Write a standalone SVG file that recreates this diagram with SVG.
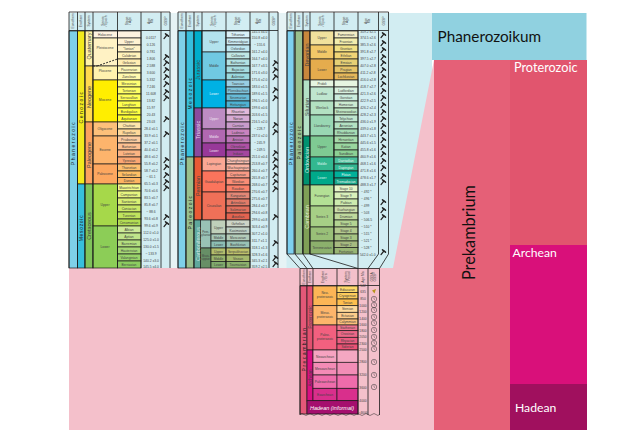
<svg xmlns="http://www.w3.org/2000/svg" width="643" height="430" viewBox="0 0 643 430">
<style>
text{font-family:"Liberation Sans",Arial,sans-serif;fill:#444;font-size:3.3px}
.c{text-anchor:middle}
.l{stroke:#1a1a1a;stroke-width:.8;fill:none}
.r rect{stroke:#1a1a1a;stroke-width:.7}
.h{font-size:2.3px;text-anchor:middle;fill:#666}
.v{font-size:5px;text-anchor:middle;letter-spacing:1.5px;fill:#222}
.s{font-size:5.4px;text-anchor:middle;fill:#444}
.b{font-family:Lato,"Liberation Sans",sans-serif;fill:#fff}
.k{font-family:Lato,"Liberation Sans",sans-serif;fill:#111}
.sp{stroke:#222;fill:none;stroke-linecap:round}
</style>
<defs>
<g id="g"><path class="sp" stroke-width="1.2" d="M-2 2.6L.9-1"/><path class="sp" stroke-width="1.5" d="M-.5-2.2L2.5.2"/></g>
<g id="q"><circle r="2.7" fill="none" stroke="#333" stroke-width=".5"/><path d="M0-1.8V0L1 .8" fill="none" stroke="#333" stroke-width=".4"/></g>
</defs>
<rect x="69" y="13" width="363" height="256" fill="#d2edf2"/>
<path d="M69 268H393L434 60V430H69Z" fill="#f4c0cb"/>
<rect x="171" y="13" width="6.500" height="255" fill="#e6f3f5"/>
<rect x="279" y="13" width="7.500" height="255" fill="#e6f3f5"/>

<g id="table-cenozoic-mesozoic">
<g class="r">
<rect x="69" y="31" width="8.5" height="237" fill="#7ed0e8"/>
<rect x="77.5" y="31" width="7.5" height="153" fill="#f2ea1d"/>
<rect x="77.5" y="184" width="7.5" height="84" fill="#37bfdc"/>
<rect x="85" y="31" width="8" height="35" fill="#fff2a8"/>
<rect x="85" y="66" width="8" height="56" fill="#ffd94f"/>
<rect x="85" y="122" width="8" height="62" fill="#fba15e"/>
<rect x="85" y="184" width="8" height="84" fill="#7fc35a"/>
<rect x="93" y="31" width="24.5" height="7" fill="#fef2e0"/>
<rect x="93" y="38" width="24.5" height="28" fill="#fff2c4"/>
<rect x="93" y="66" width="24.5" height="14" fill="#fff2ae"/>
<rect x="93" y="80" width="24.5" height="42" fill="#ffee00"/>
<rect x="93" y="122" width="24.5" height="14" fill="#fdc07a"/>
<rect x="93" y="136" width="24.5" height="28" fill="#fdb46c"/>
<rect x="93" y="164" width="24.5" height="20" fill="#fda75f"/>
<rect x="93" y="184" width="24.5" height="42" fill="#a6d84a"/>
<rect x="93" y="226" width="24.5" height="42" fill="#8ccd57"/>
<rect x="117.5" y="31" width="23.5" height="7" fill="#fef2e0"/>
<rect x="117.5" y="38" width="23.5" height="7" fill="#fff2d3"/>
<rect x="117.5" y="45" width="23.5" height="7" fill="#fff2c7"/>
<rect x="117.5" y="52" width="23.5" height="7" fill="#fff2ba"/>
<rect x="117.5" y="59" width="23.5" height="7" fill="#ffedb3"/>
<rect x="117.5" y="66" width="23.5" height="7" fill="#fff9b8"/>
<rect x="117.5" y="73" width="23.5" height="7" fill="#fff9ae"/>
<rect x="117.5" y="80" width="23.5" height="7" fill="#ffff73"/>
<rect x="117.5" y="87" width="23.5" height="7" fill="#ffff66"/>
<rect x="117.5" y="94" width="23.5" height="7" fill="#ffff59"/>
<rect x="117.5" y="101" width="23.5" height="7" fill="#ffff4d"/>
<rect x="117.5" y="108" width="23.5" height="7" fill="#ffff41"/>
<rect x="117.5" y="115" width="23.5" height="7" fill="#ffff33"/>
<rect x="117.5" y="122" width="23.5" height="7" fill="#fee6aa"/>
<rect x="117.5" y="129" width="23.5" height="7" fill="#fed99a"/>
<rect x="117.5" y="136" width="23.5" height="7" fill="#fdcda1"/>
<rect x="117.5" y="143" width="23.5" height="7" fill="#fdc091"/>
<rect x="117.5" y="150" width="23.5" height="7" fill="#fcb482"/>
<rect x="117.5" y="157" width="23.5" height="7" fill="#fca773"/>
<rect x="117.5" y="164" width="23.5" height="7" fill="#fdbf6f"/>
<rect x="117.5" y="171" width="23.5" height="6.5" fill="#febf65"/>
<rect x="117.5" y="177.5" width="23.5" height="6.5" fill="#fdb462"/>
<rect x="117.5" y="184" width="23.5" height="7" fill="#f2fa8c"/>
<rect x="117.5" y="191" width="23.5" height="7" fill="#e6f47f"/>
<rect x="117.5" y="198" width="23.5" height="7" fill="#d9ef74"/>
<rect x="117.5" y="205" width="23.5" height="7" fill="#cce968"/>
<rect x="117.5" y="212" width="23.5" height="7" fill="#bfe35d"/>
<rect x="117.5" y="219" width="23.5" height="7" fill="#b3de53"/>
<rect x="117.5" y="226" width="23.5" height="7" fill="#ccea97"/>
<rect x="117.5" y="233" width="23.5" height="7" fill="#bfe48a"/>
<rect x="117.5" y="240" width="23.5" height="7" fill="#b3df7f"/>
<rect x="117.5" y="247" width="23.5" height="7" fill="#a6d975"/>
<rect x="117.5" y="254" width="23.5" height="7" fill="#99d36a"/>
<rect x="117.5" y="261" width="23.5" height="7" fill="#8ccd60"/>
</g>
<path class="l" d="M69 12V268M77.5 12V268M85 12V268M93 12V268M117.5 12V268M141 12V268M161 12V268M170 12V268M69 12H170M69 30.5H170"/>
<path d="M93 66H97M97 66L117.5 59" stroke="#222" stroke-width=".9" stroke-dasharray="2 1.2" fill="none"/>
<g class="h"><text transform="translate(74 21) rotate(-90)">Eonothem</text><text transform="translate(82 21) rotate(-90)">Erathem</text><text transform="translate(89.800 21) rotate(-90)">System</text><text transform="translate(104 21) rotate(-90)">Series</text><text transform="translate(107 21) rotate(-90)">/ Epoch</text><text transform="translate(128 21) rotate(-90)">Stage</text><text transform="translate(131 21) rotate(-90)">/ Age</text><text transform="translate(150 21) rotate(-90)">Age</text><text transform="translate(153 21) rotate(-90)">Ma</text><text transform="translate(166.500 21) rotate(-90)">GSSP</text></g>
<text class="v" transform="translate(75 143) rotate(-90)">Phanerozoic</text>
<text class="v" transform="translate(83 107) rotate(-90)">Cenozoic</text>
<text class="v" style="letter-spacing:.7px" transform="translate(83 228) rotate(-90)">Mesozoic</text>
<text class="s" transform="translate(91 46) rotate(-90)">Quaternary</text>
<text class="s" transform="translate(91 97) rotate(-90)">Neogene</text>
<text class="s" transform="translate(91 155) rotate(-90)">Paleogene</text>
<text class="s" transform="translate(91 226) rotate(-90)">Cretaceous</text>
<g class="c">
<text x="105" y="36">Holocene</text><text x="105" y="49">Pleistocene</text><text x="105" y="72">Pliocene</text><text x="105" y="101">Miocene</text><text x="105" y="130">Oligocene</text><text x="105" y="151">Eocene</text><text x="105" y="175">Paleocene</text><text x="105" y="206">Upper</text><text x="105" y="248">Lower</text>
<text x="129" y="43">Upper</text><text x="129" y="50">"Ionian"</text><text x="129" y="57">Calabrian</text><text x="129" y="64">Gelasian</text><text x="129" y="71">Piacenzian</text><text x="129" y="78">Zanclean</text><text x="129" y="85">Messinian</text><text x="129" y="92">Tortonian</text><text x="129" y="99">Serravallian</text><text x="129" y="106">Langhian</text><text x="129" y="113">Burdigalian</text><text x="129" y="120">Aquitanian</text><text x="129" y="127">Chattian</text><text x="129" y="134">Rupelian</text><text x="129" y="141">Priabonian</text><text x="129" y="148">Bartonian</text><text x="129" y="155">Lutetian</text><text x="129" y="162">Ypresian</text><text x="129" y="169">Thanetian</text><text x="129" y="176">Selandian</text><text x="129" y="182">Danian</text><text x="129" y="189">Maastrichtian</text><text x="129" y="196">Campanian</text><text x="129" y="203">Santonian</text><text x="129" y="210">Coniacian</text><text x="129" y="217">Turonian</text><text x="129" y="224">Cenomanian</text><text x="129" y="231">Albian</text><text x="129" y="238">Aptian</text><text x="129" y="245">Barremian</text><text x="129" y="252">Hauterivian</text><text x="129" y="259">Valanginian</text><text x="129" y="266">Berriasian</text>
<text x="151" y="39">0.0117</text><text x="151" y="46">0.126</text><text x="151" y="53">0.781</text><text x="151" y="60">1.806</text><text x="151" y="67">2.588</text><text x="151" y="74">3.600</text><text x="151" y="81">5.332</text><text x="151" y="88">7.246</text><text x="151" y="95">11.608</text><text x="151" y="102">13.82</text><text x="151" y="109">15.97</text><text x="151" y="116">20.43</text><text x="151" y="123">23.03</text><text x="151" y="130">28.4 ±0.1</text><text x="151" y="137">33.9 ±0.1</text><text x="151" y="144">37.2 ±0.1</text><text x="151" y="151">40.4 ±0.2</text><text x="151" y="158">48.6 ±0.2</text><text x="151" y="165">55.8 ±0.2</text><text x="151" y="172">58.7 ±0.2</text><text x="151" y="178">~ 61.1</text><text x="151" y="185">65.5 ±0.3</text><text x="151" y="192">70.6 ±0.6</text><text x="151" y="199">83.5 ±0.7</text><text x="151" y="206">85.8 ±0.7</text><text x="151" y="213">~ 88.6</text><text x="151" y="220">93.6 ±0.8</text><text x="151" y="227">99.6 ±0.9</text><text x="151" y="234">112.0 ±1.0</text><text x="151" y="241">125.0 ±1.0</text><text x="151" y="248">130.0 ±1.5</text><text x="151" y="255">~ 133.9</text><text x="151" y="262">140.2 ±3.0</text><text x="151" y="268">145.5 ±4.0</text>
</g>
<use href="#g" x="166" y="36"/><use href="#g" x="166" y="57"/><use href="#g" x="166" y="63"/><use href="#g" x="166" y="70"/><use href="#g" x="166" y="77"/><use href="#g" x="166" y="84"/><use href="#g" x="166" y="92"/><use href="#g" x="166" y="98"/><use href="#g" x="166" y="119"/><use href="#g" x="166" y="134"/><use href="#g" x="166" y="160"/><use href="#g" x="166" y="167"/><use href="#g" x="166" y="175"/><use href="#g" x="166" y="182"/><use href="#g" x="166" y="188"/><use href="#g" x="166" y="217"/><use href="#g" x="166" y="224"/>
</g>

<g id="table-mesozoic-paleozoic">
<g class="r">
<rect x="178" y="31" width="8" height="237" fill="#7ed0e8"/>
<rect x="186" y="31" width="8" height="126" fill="#37bfdc"/>
<rect x="186" y="157" width="8" height="111" fill="#99c08d"/>
<rect x="194" y="31" width="8" height="77" fill="#00aecb"/>
<rect x="194" y="108" width="8" height="49" fill="#8a4a9e"/>
<rect x="194" y="157" width="8" height="63" fill="#e85a35"/>
<rect x="194" y="220" width="6.5" height="48" fill="#5fa89c"/>
<rect x="202" y="31" width="24" height="21" fill="#b3e3ee"/>
<rect x="202" y="52" width="24" height="28" fill="#70c9e2"/>
<rect x="202" y="80" width="24" height="28" fill="#00b1e4"/>
<rect x="202" y="108" width="24" height="21" fill="#bd8cc3"/>
<rect x="202" y="129" width="24" height="14" fill="#b168b1"/>
<rect x="202" y="143" width="24" height="14" fill="#983999"/>
<rect x="202" y="157" width="24" height="14" fill="#fba794"/>
<rect x="202" y="171" width="24" height="21" fill="#fb745c"/>
<rect x="202" y="192" width="24" height="28" fill="#ef7058"/>
<rect x="200.5" y="220" width="10.5" height="28" fill="#99c2b5"/>
<rect x="200.5" y="248" width="10.5" height="20" fill="#678f66"/>
<rect x="211" y="220" width="15" height="14" fill="#bfd0ba"/>
<rect x="211" y="234" width="15" height="7" fill="#a6c7b7"/>
<rect x="211" y="241" width="15" height="7" fill="#8cbeb4"/>
<rect x="211" y="248" width="15" height="7" fill="#b3be6c"/>
<rect x="211" y="255" width="15" height="6.5" fill="#99b46c"/>
<rect x="211" y="261.5" width="15" height="6.5" fill="#80ab6c"/>
<rect x="226" y="31" width="24" height="7" fill="#d9f1f7"/><rect x="226" y="38" width="24" height="7" fill="#ccecf4"/><rect x="226" y="45" width="24" height="7" fill="#bfe7f1"/><rect x="226" y="52" width="24" height="7" fill="#bfe7e5"/><rect x="226" y="59" width="24" height="7" fill="#b3e2e3"/><rect x="226" y="66" width="24" height="7" fill="#a6dde0"/><rect x="226" y="73" width="24" height="7" fill="#9ad9dd"/><rect x="226" y="80" width="24" height="7" fill="#99cee3"/><rect x="226" y="87" width="24" height="7" fill="#80c5dd"/><rect x="226" y="94" width="24" height="7" fill="#67bcd8"/><rect x="226" y="101" width="24" height="7" fill="#4eb3d3"/><rect x="226" y="108" width="24" height="7" fill="#e3b9db"/><rect x="226" y="115" width="24" height="7" fill="#d6aad3"/><rect x="226" y="122" width="24" height="7" fill="#c99bcb"/><rect x="226" y="129" width="24" height="7" fill="#c983bf"/><rect x="226" y="136" width="24" height="7" fill="#bc75b7"/><rect x="226" y="143" width="24" height="7" fill="#b051a5"/><rect x="226" y="150" width="24" height="7" fill="#a4469f"/><rect x="226" y="157" width="24" height="7" fill="#fcc0b2"/><rect x="226" y="164" width="24" height="7" fill="#fcb4a2"/><rect x="226" y="171" width="24" height="7" fill="#fb9a85"/><rect x="226" y="178" width="24" height="7" fill="#fb8d76"/><rect x="226" y="185" width="24" height="7" fill="#fb8069"/><rect x="226" y="192" width="24" height="7" fill="#e38776"/><rect x="226" y="199" width="24" height="7" fill="#e37b68"/><rect x="226" y="206" width="24" height="7" fill="#e36f5c"/><rect x="226" y="213" width="24" height="7" fill="#e36350"/><rect x="226" y="220" width="24" height="7" fill="#ccd4c7"/><rect x="226" y="227" width="24" height="7" fill="#bfd0c5"/><rect x="226" y="234" width="24" height="7" fill="#b3cbb9"/><rect x="226" y="241" width="24" height="7" fill="#99c2b5"/><rect x="226" y="248" width="24" height="7" fill="#bfc26b"/><rect x="226" y="255" width="24" height="6.5" fill="#a6b96c"/><rect x="226" y="261.5" width="24" height="6.5" fill="#8cb06c"/>
</g>
<path class="l" d="M178 12V268M186 12V268M194 12V268M226 12V268M250 12V268M269 12V268M278 12V268M178 12H278M178 30.5H278M202 12V220"/>
<g class="h"><text transform="translate(183 21) rotate(-90)">Eonothem</text><text transform="translate(191 21) rotate(-90)">Erathem</text><text transform="translate(199 21) rotate(-90)">System</text><text transform="translate(213 21) rotate(-90)">Series</text><text transform="translate(216 21) rotate(-90)">/ Epoch</text><text transform="translate(237 21) rotate(-90)">Stage</text><text transform="translate(240 21) rotate(-90)">/ Age</text><text transform="translate(258 21) rotate(-90)">Age</text><text transform="translate(261 21) rotate(-90)">Ma</text><text transform="translate(274.500 21) rotate(-90)">GSSP</text></g>
<text class="v" transform="translate(184 143) rotate(-90)">Phanerozoic</text>
<text class="v" transform="translate(192 93) rotate(-90)">Mesozoic</text>
<text class="v" transform="translate(192 212) rotate(-90)">Paleozoic</text>
<text class="s" transform="translate(200 70) rotate(-90)">Jurassic</text>
<text class="s" style="fill:#e4d4ec" transform="translate(200 130) rotate(-90)">Triassic</text>
<text class="s" transform="translate(200 186) rotate(-90)">Permian</text>
<text class="s" style="fill:#cfe6e2" transform="translate(199.500 244) rotate(-90)">Carboniferous</text>
<g class="c">
<text x="214" y="43">Upper</text><text x="214" y="67">Middle</text><text x="214" y="95" style="fill:#e8f7fc">Lower</text><text x="214" y="120" style="fill:#f0e4f2">Upper</text><text x="214" y="137.5" style="fill:#f0e4f2">Middle</text><text x="214" y="151.5" style="fill:#f0e4f2">Lower</text><text x="214" y="165">Lopingian</text><text x="214" y="183">Guadalupian</text><text x="214" y="207">Cisuralian</text>
<text style="font-size:2.6px"><tspan x="205.700" y="233">Penn-</tspan><tspan x="205.700" y="236">sylvanian</tspan></text>
<text style="font-size:2.6px"><tspan x="205.700" y="257">Missis-</tspan><tspan x="205.700" y="260">sippian</tspan></text>
<text x="218.500" y="228.5">Upper</text><text x="218.500" y="239">Middle</text><text x="218.500" y="246">Lower</text><text x="218.500" y="253">Upper</text><text x="218.500" y="259.5">Middle</text><text x="218.500" y="266">Lower</text>
<text x="238" y="36">Tithonian</text><text x="238" y="43">Kimmeridgian</text><text x="238" y="50">Oxfordian</text><text x="238" y="57">Callovian</text><text x="238" y="64">Bathonian</text><text x="238" y="71">Bajocian</text><text x="238" y="78">Aalenian</text><text x="238" y="85">Toarcian</text><text x="238" y="92">Pliensbachian</text><text x="238" y="99">Sinemurian</text><text x="238" y="106">Hettangian</text><text x="238" y="113">Rhaetian</text><text x="238" y="120">Norian</text><text x="238" y="127">Carnian</text><text x="238" y="134">Ladinian</text><text x="238" y="141">Anisian</text><text x="238" y="148">Olenekian</text><text x="238" y="155">Induan</text><text x="238" y="162">Changhsingian</text><text x="238" y="169">Wuchiapingian</text><text x="238" y="176">Capitanian</text><text x="238" y="183">Wordian</text><text x="238" y="190">Roadian</text><text x="238" y="197">Kungurian</text><text x="238" y="204">Artinskian</text><text x="238" y="211">Sakmarian</text><text x="238" y="218">Asselian</text><text x="238" y="225">Gzhelian</text><text x="238" y="232">Kasimovian</text><text x="238" y="239">Moscovian</text><text x="238" y="246">Bashkirian</text><text x="238" y="253">Serpukhovian</text><text x="238" y="259.5">Visean</text><text x="238" y="266">Tournaisian</text>
<text x="259.5" y="33">145.5 ±4.0</text><text x="259.5" y="39">150.8 ±4.0</text><text x="259.5" y="46">~ 155.6</text><text x="259.5" y="53">161.2 ±4.0</text><text x="259.5" y="60">164.7 ±4.0</text><text x="259.5" y="67">167.7 ±3.5</text><text x="259.5" y="74">171.6 ±3.0</text><text x="259.5" y="81">175.6 ±2.0</text><text x="259.5" y="88">183.0 ±1.5</text><text x="259.5" y="95">189.6 ±1.5</text><text x="259.5" y="102">196.5 ±1.0</text><text x="259.5" y="109">199.6 ±0.6</text><text x="259.5" y="116">203.6 ±1.5</text><text x="259.5" y="123">216.5 ±2.0</text><text x="259.5" y="130">~ 228.7</text><text x="259.5" y="137">237.0 ±2.0</text><text x="259.5" y="144">~ 245.9</text><text x="259.5" y="151">~ 249.5</text><text x="259.5" y="158">251.0 ±0.4</text><text x="259.5" y="165">253.8 ±0.7</text><text x="259.5" y="172">260.4 ±0.7</text><text x="259.5" y="179">265.8 ±0.7</text><text x="259.5" y="186">268.0 ±0.7</text><text x="259.5" y="193">270.6 ±0.7</text><text x="259.5" y="200">275.6 ±0.7</text><text x="259.5" y="207">284.4 ±0.7</text><text x="259.5" y="214">294.6 ±0.8</text><text x="259.5" y="221">299.0 ±0.8</text><text x="259.5" y="228">303.4 ±0.9</text><text x="259.5" y="235">307.2 ±1.0</text><text x="259.5" y="242">311.7 ±1.1</text><text x="259.5" y="249">318.1 ±1.3</text><text x="259.5" y="256">328.3 ±1.6</text><text x="259.5" y="262">345.3 ±2.1</text><text x="259.5" y="268">359.2 ±2.5</text>
</g>
<use href="#g" x="275" y="63"/><use href="#g" x="275" y="70"/><use href="#g" x="275" y="77"/><use href="#g" x="275" y="90"/><use href="#g" x="275" y="98"/><use href="#g" x="275" y="125"/><use href="#g" x="275" y="132"/><use href="#g" x="275" y="153"/><use href="#g" x="275" y="160"/><use href="#g" x="275" y="167"/><use href="#g" x="275" y="175"/><use href="#g" x="275" y="182"/><use href="#g" x="275" y="189"/><use href="#g" x="275" y="217"/><use href="#g" x="275" y="243"/><use href="#g" x="275" y="258"/><use href="#g" x="275" y="264"/>
</g>

<g id="table-paleozoic">
<g class="r">
<rect x="287" y="31" width="7" height="223" fill="#7ed0f0"/>
<rect x="295" y="31" width="7.5" height="223" fill="#99c08d"/>
<rect x="303" y="31" width="7" height="49" fill="#c8873c"/>
<rect x="303" y="80" width="7" height="56" fill="#b3e1c6"/>
<rect x="303" y="136" width="7" height="49" fill="#009270"/>
<rect x="303" y="185" width="7" height="69" fill="#7fa056"/>
<rect x="310" y="31" width="24" height="14" fill="#f1e19d"/><rect x="310" y="45" width="24" height="14" fill="#f1c868"/><rect x="310" y="59" width="24" height="21" fill="#e5ac4d"/><rect x="310" y="80" width="24" height="7" fill="#e6f5e1"/><rect x="310" y="87" width="24" height="14" fill="#bfe6cf"/><rect x="310" y="101" width="24" height="14" fill="#b3e1c2"/><rect x="310" y="115" width="24" height="21" fill="#99d7b3"/><rect x="310" y="136" width="24" height="21" fill="#7fca93"/><rect x="310" y="157" width="24" height="14" fill="#33b890"/><rect x="310" y="171" width="24" height="14" fill="#00a98a"/><rect x="310" y="185" width="24" height="21" fill="#b3e095"/><rect x="310" y="206" width="24" height="21" fill="#a6cf86"/><rect x="310" y="227" width="24" height="14" fill="#99c078"/><rect x="310" y="241" width="24" height="13" fill="#8cb06c"/>
<rect x="334" y="31" width="24" height="7" fill="#f2edc5"/><rect x="334" y="38" width="24" height="7" fill="#f2edad"/><rect x="334" y="45" width="24" height="7" fill="#f1e185"/><rect x="334" y="52" width="24" height="7" fill="#f1d576"/><rect x="334" y="59" width="24" height="7" fill="#e5d075"/><rect x="334" y="66" width="24" height="7" fill="#e5c468"/><rect x="334" y="73" width="24" height="7" fill="#e5b75a"/><rect x="334" y="80" width="24" height="7" fill="#e6f5e1"/><rect x="334" y="87" width="24" height="7" fill="#d9f0df"/><rect x="334" y="94" width="24" height="7" fill="#ccecdd"/><rect x="334" y="101" width="24" height="7" fill="#ccebd1"/><rect x="334" y="108" width="24" height="7" fill="#bfe6c3"/><rect x="334" y="115" width="24" height="7" fill="#bfe6cf"/><rect x="334" y="122" width="24" height="7" fill="#b3e1c2"/><rect x="334" y="129" width="24" height="7" fill="#a6dcb5"/><rect x="334" y="136" width="24" height="7" fill="#a6dbab"/><rect x="334" y="143" width="24" height="7" fill="#99d69f"/><rect x="334" y="150" width="24" height="7" fill="#8cd094"/><rect x="334" y="157" width="24" height="7" fill="#4dbf9c"/><rect x="334" y="164" width="24" height="7" fill="#33b692"/><rect x="334" y="171" width="24" height="7" fill="#00b09a"/><rect x="334" y="178" width="24" height="7" fill="#1aa58a"/><rect x="334" y="185" width="24" height="7" fill="#e6f5c9"/><rect x="334" y="192" width="24" height="7" fill="#d9f0bb"/><rect x="334" y="199" width="24" height="7" fill="#ccebae"/><rect x="334" y="206" width="24" height="7" fill="#ccdfaa"/><rect x="334" y="213" width="24" height="7" fill="#bfd99d"/><rect x="334" y="220" width="24" height="7" fill="#b3d492"/><rect x="334" y="227" width="24" height="7" fill="#b3ca8e"/><rect x="334" y="234" width="24" height="7" fill="#a6c583"/><rect x="334" y="241" width="24" height="6.5" fill="#a6ba80"/><rect x="334" y="247.5" width="24" height="6.5" fill="#99b575"/>
</g>
<path class="l" d="M287 12V254M295 12V254M303 12V254M310 12V254M334 12V254M358 12V254M378.500 12V254M388.500 12V254M287 12H388.500M287 30.5H388.500"/>
<g class="h"><text transform="translate(291.800 21) rotate(-90)">Eonothem</text><text transform="translate(299.800 21) rotate(-90)">Erathem</text><text transform="translate(307.500 21) rotate(-90)">System</text><text transform="translate(321 21) rotate(-90)">Series</text><text transform="translate(324 21) rotate(-90)">/ Epoch</text><text transform="translate(345 21) rotate(-90)">Stage</text><text transform="translate(348 21) rotate(-90)">/ Age</text><text transform="translate(367 21) rotate(-90)">Age</text><text transform="translate(370 21) rotate(-90)">Ma</text><text transform="translate(384.500 21) rotate(-90)">GSSP</text></g>
<text class="v" transform="translate(292.500 143) rotate(-90)">Phanerozoic</text>
<text class="v" transform="translate(300.500 142) rotate(-90)">Paleozoic</text>
<text class="s" transform="translate(308.500 55) rotate(-90)">Devonian</text>
<text class="s" transform="translate(308.500 107) rotate(-90)">Silurian</text>
<text class="s" style="fill:#d6efe6" transform="translate(308.500 160) rotate(-90)">Ordovician</text>
<text class="s" style="fill:#e3efd2" transform="translate(308.500 217) rotate(-90)">Cambrian</text>
<g class="c">
<text x="322" y="39">Upper</text><text x="322" y="53">Middle</text><text x="322" y="71">Lower</text><text x="322" y="85">Pridoli</text><text x="322" y="95">Ludlow</text><text x="322" y="109">Wenlock</text><text x="322" y="127">Llandovery</text><text x="322" y="148">Upper</text><text x="322" y="165" style="fill:#dff5ec">Middle</text><text x="322" y="179" style="fill:#dff5ec">Lower</text><text x="322" y="197">Furongian</text><text x="322" y="218">Series 3</text><text x="322" y="235">Series 2</text><text x="322" y="249">Terreneuvian</text>
<text x="346" y="36">Famennian</text><text x="346" y="43">Frasnian</text><text x="346" y="50">Givetian</text><text x="346" y="57">Eifelian</text><text x="346" y="64">Emsian</text><text x="346" y="71">Pragian</text><text x="346" y="78">Lochkovian</text><text x="346" y="92">Ludfordian</text><text x="346" y="99">Gorstian</text><text x="346" y="106">Homerian</text><text x="346" y="113">Sheinwoodian</text><text x="346" y="120">Telychian</text><text x="346" y="127">Aeronian</text><text x="346" y="134">Rhuddanian</text><text x="346" y="141">Hirnantian</text><text x="346" y="148">Katian</text><text x="346" y="155">Sandbian</text><text x="346" y="162" style="fill:#e6f7f0">Darriwilian</text><text x="346" y="169" style="fill:#e6f7f0">Dapingian</text><text x="346" y="176" style="fill:#e6f7f0">Floian</text><text x="346" y="183" style="fill:#e6f7f0">Tremadocian</text><text x="346" y="190">Stage 10</text><text x="346" y="197">Stage 9</text><text x="346" y="204">Paibian</text><text x="346" y="211">Guzhangian</text><text x="346" y="218">Drumian</text><text x="346" y="225">Stage 5</text><text x="346" y="232">Stage 4</text><text x="346" y="239">Stage 3</text><text x="346" y="246">Stage 2</text><text x="346" y="252.5">Fortunian</text>
<text x="368" y="33">359.2 ±2.5</text><text x="368" y="39">374.5 ±2.6</text><text x="368" y="46">385.3 ±2.6</text><text x="368" y="53">391.8 ±2.7</text><text x="368" y="60">397.5 ±2.7</text><text x="368" y="67">407.0 ±2.8</text><text x="368" y="74">411.2 ±2.8</text><text x="368" y="81">416.0 ±2.8</text><text x="368" y="88">418.7 ±2.7</text><text x="368" y="95">421.3 ±2.6</text><text x="368" y="102">422.9 ±2.5</text><text x="368" y="109">426.2 ±2.4</text><text x="368" y="116">428.2 ±2.3</text><text x="368" y="123">436.0 ±1.9</text><text x="368" y="130">439.0 ±1.8</text><text x="368" y="137">443.7 ±1.5</text><text x="368" y="144">445.6 ±1.5</text><text x="368" y="151">455.8 ±1.6</text><text x="368" y="158">460.9 ±1.6</text><text x="368" y="165">468.1 ±1.6</text><text x="368" y="172">471.8 ±1.6</text><text x="368" y="179">478.6 ±1.7</text><text x="368" y="186">488.3 ±1.7</text>
</g>
<text x="361" y="193">~ 492 *</text><text x="361" y="200">~ 496 *</text><text x="361" y="207">~ 499</text><text x="361" y="214">~ 503</text><text x="361" y="221">~ 506.5</text><text x="361" y="228">~ 510 *</text><text x="361" y="235">~ 515 *</text><text x="361" y="242">~ 521 *</text><text x="361" y="249">~ 528 *</text><text x="360" y="255.5">542.0 ±1.0</text>
<use href="#g" x="383" y="35"/><use href="#g" x="383" y="43"/><use href="#g" x="383" y="50"/><use href="#g" x="383" y="57"/><use href="#g" x="383" y="63"/><use href="#g" x="383" y="70"/><use href="#g" x="383" y="77"/><use href="#g" x="383" y="84"/><use href="#g" x="383" y="91"/><use href="#g" x="383" y="98"/><use href="#g" x="383" y="105"/><use href="#g" x="383" y="112"/><use href="#g" x="383" y="119"/><use href="#g" x="383" y="126"/><use href="#g" x="383" y="133"/><use href="#g" x="383" y="140"/><use href="#g" x="383" y="147"/><use href="#g" x="383" y="154"/><use href="#g" x="383" y="161"/><use href="#g" x="383" y="168"/><use href="#g" x="383" y="176"/><use href="#g" x="383" y="182"/><use href="#g" x="383" y="202"/><use href="#g" x="383" y="210"/><use href="#g" x="383" y="217"/><use href="#g" x="383" y="252"/>
</g>

<g id="connectors">
<path class="l" d="M287 254L300 268.5M295 254L307 268.5M303 254L313 268.5M310 254L358 268.5M358 254L358 268.5M378.500 254L368 268.5M388.500 254L379.500 268.5"/>
</g>

<g id="table-precambrian">
<g class="r">
<rect x="300" y="286" width="7" height="128" fill="#e45878"/>
<rect x="307" y="286" width="6" height="64" fill="#e2506f"/>
<rect x="307" y="350" width="6" height="51" fill="#da0f82"/>
<rect x="313" y="286" width="24" height="19.7" fill="#fcb556"/>
<rect x="313" y="305.7" width="24" height="19.3" fill="#fdb56b"/>
<rect x="313" y="325" width="24" height="25" fill="#f2607f"/>
<rect x="313" y="350" width="24" height="12.3" fill="#f6a3c1"/>
<rect x="313" y="362.3" width="24" height="12.7" fill="#f48bb6"/>
<rect x="313" y="375" width="24" height="13.3" fill="#ef6cab"/>
<rect x="313" y="388.3" width="24" height="12.4" fill="#d92f8c"/>
<rect x="337" y="286" width="21" height="6.5" fill="#fed96a"/><rect x="337" y="292.5" width="21" height="6.5" fill="#fecc5c"/><rect x="337" y="299" width="21" height="6.7" fill="#febf4e"/><rect x="337" y="305.7" width="21" height="6.6" fill="#fed99a"/><rect x="337" y="312.3" width="21" height="6.7" fill="#fdcc8a"/><rect x="337" y="319" width="21" height="6" fill="#fdc07a"/><rect x="337" y="325" width="21" height="5.7" fill="#f0738f"/><rect x="337" y="330.7" width="21" height="6.6" fill="#ee6888"/><rect x="337" y="337.3" width="21" height="6.7" fill="#ed5c80"/><rect x="337" y="344" width="21" height="6" fill="#eb5275"/>
<rect x="337" y="350" width="21" height="12.3" fill="#f4a7c2"/><rect x="337" y="362.3" width="21" height="12.7" fill="#f28db6"/><rect x="337" y="375" width="21" height="13.3" fill="#ef6cab"/><rect x="337" y="388.3" width="21" height="12.4" fill="#d92f8c"/>
<rect x="307" y="400.7" width="51" height="13.3" fill="#a50f6e"/>
</g>
<path class="l" d="M300 268.5V415M307 268.5V286M313 268.5V286M337 268.5V286M358 268.5V415M368 268.5V415M379.500 268.5V415M300 268.5H379.500M300 285.5H379.500"/>
<path d="M300 414.5q2-2 4 0t4 0 4 0 4 0 4 0 4 0 4 0 4 0 4 0 4 0 4 0 4 0 4 0 4 0 4 0 4 0 4 0 4 0 4 0 3.500 0" stroke="#222" stroke-width=".5" fill="none"/>
<g class="h"><text transform="translate(304.500 277) rotate(-90)">Eonothem</text><text transform="translate(311 277) rotate(-90)">Erathem</text><text transform="translate(324 277) rotate(-90)">Erathem</text><text transform="translate(327 277) rotate(-90)">/ Era</text><text transform="translate(347 277) rotate(-90)">System</text><text transform="translate(350 277) rotate(-90)">/ Period</text><text transform="translate(364 277) rotate(-90)">Age Ma</text><text transform="translate(373 277) rotate(-90)">GSSA</text><text transform="translate(376 277) rotate(-90)">GSSP</text></g>
<text class="v" transform="translate(305.5 349) rotate(-90)">Precambrian</text>
<text class="s" style="font-size:4.600px" transform="translate(311.800 317) rotate(-90)">Proterozoic</text>
<text class="s" style="font-size:4.600px" transform="translate(311.800 378) rotate(-90)">Archean</text>
<g class="c">
<text><tspan x="325" y="294">Neo-</tspan><tspan x="325" y="298">proterozoic</tspan></text>
<text><tspan x="325" y="314">Meso-</tspan><tspan x="325" y="318">proterozoic</tspan></text>
<text><tspan x="325" y="336">Paleo-</tspan><tspan x="325" y="340">proterozoic</tspan></text>
<text x="325" y="357.5">Neoarchean</text><text x="325" y="370">Mesoarchean</text><text x="325" y="383">Paleoarchean</text><text x="325" y="395.5">Eoarchean</text>
<text x="347.5" y="290.5">Ediacaran</text><text x="347.5" y="297">Cryogenian</text><text x="347.5" y="303.5">Tonian</text><text x="347.5" y="310">Stenian</text><text x="347.5" y="317">Ectasian</text><text x="347.5" y="323">Calymmian</text><text x="347.5" y="329">Statherian</text><text x="347.5" y="335">Orosirian</text><text x="347.5" y="341.5">Rhyacian</text><text x="347.5" y="348">Siderian</text>
<text x="332" y="409.5" style="font-size:5.5px;font-style:italic;fill:#fff">Hadean (informal)</text>
<text x="363" y="287">542</text><text x="363" y="293">635</text><text x="363" y="300">850</text><text x="363" y="307">1000</text><text x="363" y="313">1200</text><text x="363" y="320">1400</text><text x="363" y="326">1600</text><text x="363" y="332">1800</text><text x="363" y="338">2050</text><text x="363" y="345">2300</text><text x="363" y="351">2500</text><text x="363" y="363">2800</text><text x="363" y="376">3200</text><text x="363" y="389">3600</text><text x="363" y="402">4000</text><text x="363" y="414">~4600</text>
</g>
<path d="M372 290.5L376 289 374.5 293.5Z" fill="#b8941e"/>
<use href="#q" x="374" y="299"/><use href="#q" x="374" y="305"/><use href="#q" x="374" y="310"/><use href="#q" x="374" y="317"/><use href="#q" x="374" y="323"/><use href="#q" x="374" y="330"/><use href="#q" x="374" y="337"/><use href="#q" x="374" y="343"/><use href="#q" x="374" y="349"/><use href="#q" x="374" y="362"/><use href="#q" x="374" y="375"/><use href="#q" x="374" y="387"/>
</g>

<g id="block-phanerozoikum">
<rect x="432" y="13" width="154.5" height="47" fill="#90d1e0"/>
<text class="k" x="437.5" y="42" style="font-size:15.3px">Phanerozoikum</text>
</g>
<g id="block-prekambrium">
<rect x="434" y="60" width="76" height="370" fill="#e56077"/>
<text class="k" transform="translate(475 280) rotate(-90)" style="font-size:16.3px">Prekambrium</text>
</g>
<g id="block-proterozoic">
<rect x="510" y="60" width="77" height="185" fill="#e1556e"/>
<text class="b" x="514" y="72" style="font-size:12.7px">Proterozoic</text>
</g>
<g id="block-archean">
<rect x="510" y="245" width="77" height="139" fill="#d9107a"/>
<text class="b" x="512.5" y="257" style="font-size:12.2px">Archean</text>
</g>
<g id="block-hadean">
<rect x="510" y="384" width="77" height="46" fill="#a0105e"/>
<text class="b" x="515" y="412" style="font-size:12.2px">Hadean</text>
</g>
</svg>
